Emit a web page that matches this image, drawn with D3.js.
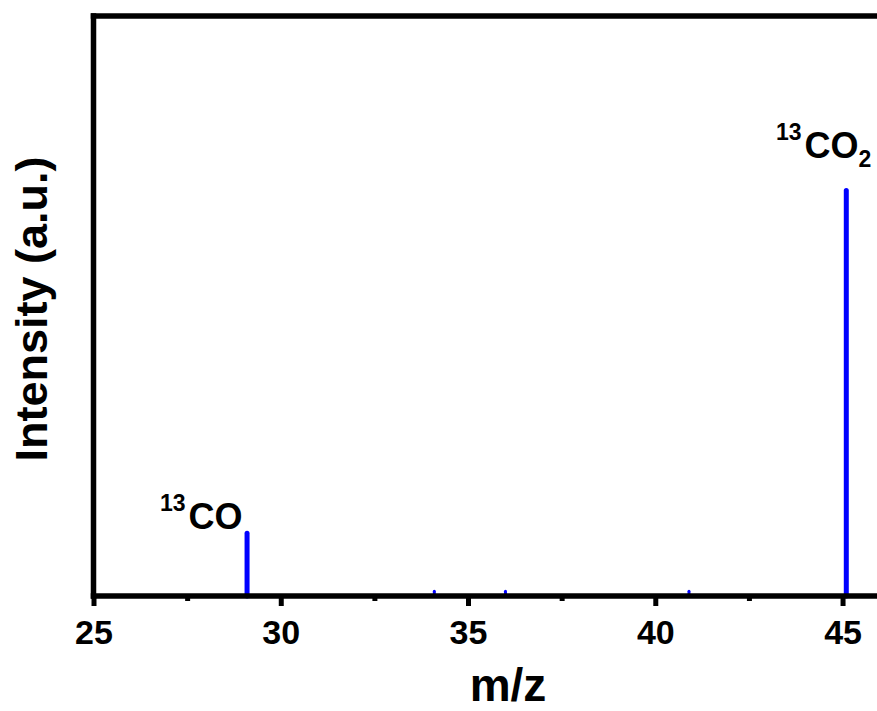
<!DOCTYPE html>
<html>
<head>
<meta charset="utf-8">
<script src="https://cdn.jsdelivr.net/npm/d3@7"></script>
<style>
  html, body { margin: 0; padding: 0; background: #fff; }
  svg { display: block; }
  text { font-family: "Liberation Sans", Arial, sans-serif; font-weight: bold; fill: #000; }
</style>
</head>
<body>
<svg id="chart" width="877" height="711"></svg>
<script>
// Mass spectrum peaks (m/z and relative intensity, a.u.)
const mzValues = [29.1, 34.1, 36.0, 40.9, 45.1];
const intensities = [1.08, 0.08, 0.08, 0.08, 6.99];

// x-axis ticks
const majorTicks = [25, 30, 35, 40, 45];
const minorTicks = [27.5, 32.5, 37.5, 42.5];

// Peak annotations
const labelMz = [29.1, 45.1];
const labelIso = ["13", "13"];
const labelBody = ["CO", "CO"];
const labelSub = ["", "2"];

(function () {
  const svg = d3.select("#chart");
  const plotLeft = 93.5, plotRight = 880, plotTop = 16, plotBottom = 596;

  const x = d3.scaleLinear().domain([25, 46]).range([plotLeft, plotRight]);
  const y = d3.scaleLinear().domain([0, 10]).range([plotBottom, plotTop]);

  const peaks = mzValues.map((m, i) => ({ mz: m, v: intensities[i] }));

  // spectrum lines
  svg.append("g")
    .selectAll("line")
    .data(peaks)
    .join("line")
    .attr("x1", d => x(d.mz)).attr("x2", d => x(d.mz))
    .attr("y1", y(0)).attr("y2", d => y(d.v))
    .attr("stroke", "#0000ff")
    .attr("stroke-width", d => d.v > 0.5 ? 5 : 3)
    .attr("stroke-linecap", "round");

  // bottom axis: major and minor ticks
  const axisMajor = d3.axisBottom(x).tickValues(majorTicks).tickSize(10).tickPadding(14).tickFormat(d3.format("d"));
  const gMajor = svg.append("g").attr("transform", `translate(0,${plotBottom})`).call(axisMajor);
  gMajor.select(".domain").remove();
  gMajor.selectAll(".tick line").attr("stroke", "#000").attr("stroke-width", 5);
  gMajor.selectAll(".tick text")
    .attr("font-size", 34).attr("font-family", "Liberation Sans, Arial, sans-serif")
    .attr("font-weight", "bold").attr("fill", "#000");

  const axisMinor = d3.axisBottom(x).tickValues(minorTicks).tickSize(5).tickFormat("");
  const gMinor = svg.append("g").attr("transform", `translate(0,${plotBottom})`).call(axisMinor);
  gMinor.select(".domain").remove();
  gMinor.selectAll(".tick line").attr("stroke", "#000").attr("stroke-width", 5);

  // frame: left, top, bottom
  const frame = svg.append("g").attr("stroke", "#000").attr("stroke-width", 5.5).attr("fill", "none");
  frame.append("line").attr("x1", plotLeft).attr("x2", plotLeft).attr("y1", plotTop - 2.75).attr("y2", plotBottom + 2.75);
  frame.append("line").attr("x1", plotLeft - 2.75).attr("x2", plotRight + 3).attr("y1", plotTop).attr("y2", plotTop);
  frame.append("line").attr("x1", plotLeft - 2.75).attr("x2", plotRight + 3).attr("y1", plotBottom).attr("y2", plotBottom);

  // axis titles
  svg.append("text")
    .attr("x", 508).attr("y", 701)
    .attr("text-anchor", "middle")
    .attr("font-size", 46)
    .text("m/z");

  svg.append("text")
    .attr("transform", `translate(47,${(plotTop + plotBottom) / 2 + 3}) rotate(-90)`)
    .attr("text-anchor", "middle")
    .attr("font-size", 45)
    .text("Intensity (a.u.)");

  // peak labels
  const labelPlace = [
    { dx: -4.5, baseline: y(intensities[0]) - 4 },
    { dx: 25, baseline: y(intensities[4]) - 33 }
  ];
  labelMz.forEach((m, i) => {
    const t = svg.append("text")
      .attr("x", x(m) + labelPlace[i].dx)
      .attr("y", labelPlace[i].baseline)
      .attr("text-anchor", "end")
      .attr("font-size", 36);
    t.append("tspan").attr("font-size", 23).attr("dy", -18).text(labelIso[i]);
    t.append("tspan").attr("dx", 3).attr("dy", 18).text(labelBody[i]);
    if (labelSub[i]) {
      t.append("tspan").attr("font-size", 23).attr("dy", 9).text(labelSub[i]);
    }
  });
})();
</script>
</body>
</html>
